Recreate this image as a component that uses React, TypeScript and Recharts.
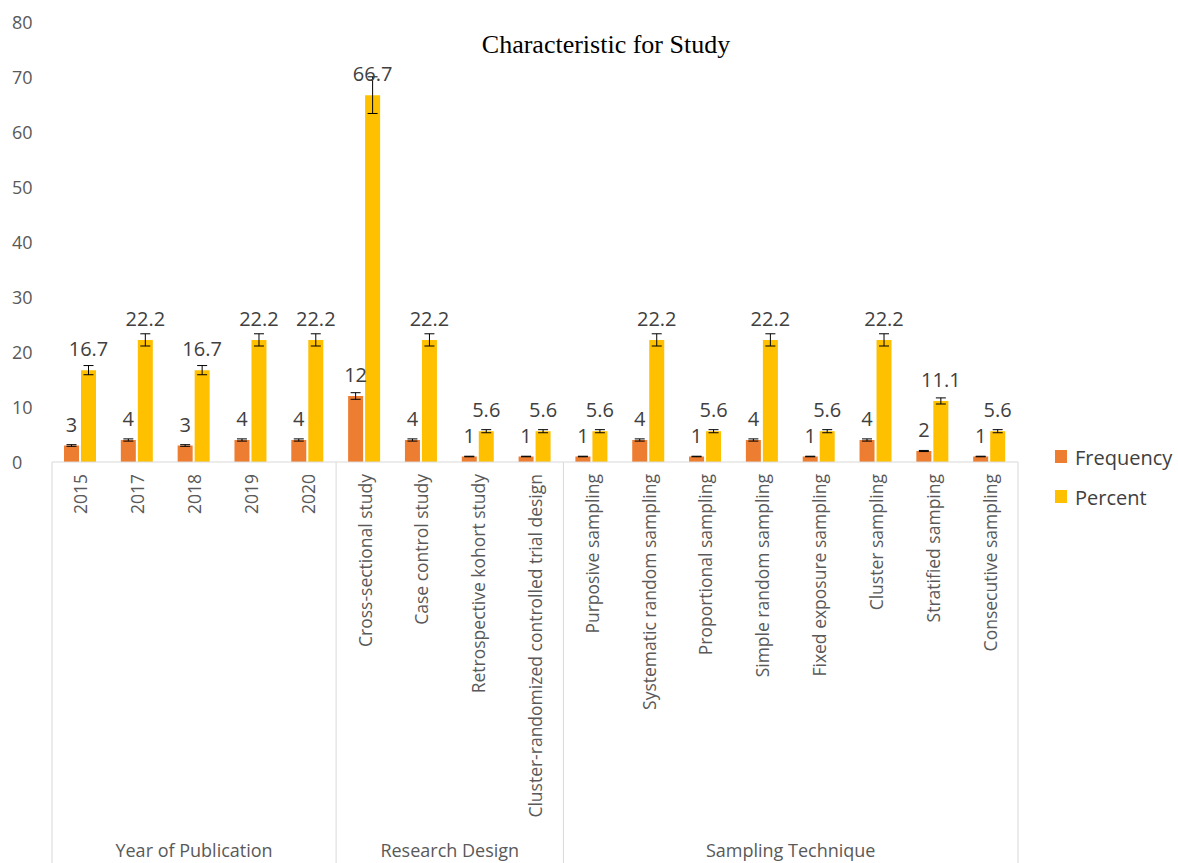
import React from 'react';
import { BarChart, Bar, XAxis, YAxis, ErrorBar, LabelList } from 'recharts';

document.body.style.margin = '0';

// Categories, in display order, split by group
const yearCats = ['2015', '2017', '2018', '2019', '2020'];
const designCats = [
  'Cross-sectional study',
  'Case control study',
  'Retrospective kohort study',
  'Cluster-randomized controlled trial design',
];
const samplingCats = [
  'Purposive sampling',
  'Systematic random sampling',
  'Proportional sampling',
  'Simple random sampling',
  'Fixed exposure sampling',
  'Cluster sampling',
  'Stratified samping',
  'Consecutive sampling',
];
const groupNames = ['Year of Publication', 'Research Design', 'Sampling Technique'];

const frequency = [3, 4, 3, 4, 4, 12, 4, 1, 1, 1, 4, 1, 4, 1, 4, 2, 1];
const percent = [16.7, 22.2, 16.7, 22.2, 22.2, 66.7, 22.2, 5.6, 5.6, 5.6, 22.2, 5.6, 22.2, 5.6, 22.2, 11.1, 5.6];

const yTicks = [0, 10, 20, 30, 40, 50, 60, 70, 80];

// Excel-style percentage error bars (5%)
const ERROR_PCT = 0.05;

const groups = [yearCats, designCats, samplingCats];
const categories = groups.flat();

const data = categories.map((category, i) => ({
  category,
  Frequency: frequency[i],
  Percent: percent[i],
}));

const W = 1178;
const H = 863;
const MARGIN = { top: 22, right: 160, bottom: 0, left: 0 };
const Y_W = 52;
const X_H = 401;
const BASE_Y = H - X_H;
const BAND = (W - MARGIN.left - MARGIN.right - Y_W) / categories.length;

const ORANGE = '#ED7D31';
const GOLD = '#FFC000';
const AXIS_GRAY = '#D9D9D9';
const FONT = '"Open Sans", "DejaVu Sans", sans-serif';

// index of first category of each group
const groupStarts: number[] = [];
{
  let n = 0;
  groups.forEach((g) => {
    groupStarts.push(n);
    n += g.length;
  });
}

const CategoryTick = (props: any) => {
  const { x, index, payload } = props;
  const gi = groupStarts.indexOf(index);
  const isLast = index === categories.length - 1;
  return (
    <g>
      <text
        transform={`translate(${x}, ${BASE_Y + 12}) rotate(-90)`}
        textAnchor="end"
        dominantBaseline="central"
        fontFamily={FONT}
        fontSize={17.5}
        fill="#595959"
      >
        {payload.value}
      </text>
      {gi >= 0 && (
        <>
          <line x1={x - BAND / 2} x2={x - BAND / 2} y1={BASE_Y} y2={H} stroke={AXIS_GRAY} strokeWidth={1} />
          <text
            x={x - BAND / 2 + (groups[gi].length * BAND) / 2}
            y={H - 6}
            textAnchor="middle"
            fontFamily={FONT}
            fontSize={18}
            fill="#595959"
          >
            {groupNames[gi]}
          </text>
        </>
      )}
      {isLast && (
        <line x1={x + BAND / 2} x2={x + BAND / 2} y1={BASE_Y} y2={H} stroke={AXIS_GRAY} strokeWidth={1} />
      )}
    </g>
  );
};

const ValueTick = (props: any) => {
  const { y, payload } = props;
  return (
    <text x={12} y={y} textAnchor="start" dominantBaseline="central" fontFamily={FONT} fontSize={18} fill="#595959">
      {payload.value}
    </text>
  );
};

const TopLabel = (props: any) => {
  const { x, y, width, value } = props;
  return (
    <text
      x={x + width / 2}
      y={y - 14}
      textAnchor="middle"
      fontFamily={FONT}
      fontSize={20}
      fill="#404040"
    >
      {value}
    </text>
  );
};

const series = [
  { key: 'Frequency', color: ORANGE },
  { key: 'Percent', color: GOLD },
];

export default function App() {
  return (
    <div style={{ position: 'relative', width: W, height: H, background: '#fff' }}>
      <BarChart width={W} height={H} data={data} margin={MARGIN} barSize={15} barGap={2}>
        <XAxis
          dataKey="category"
          interval={0}
          height={X_H}
          tickLine={false}
          axisLine={{ stroke: AXIS_GRAY }}
          tick={CategoryTick}
        />
        <YAxis
          width={Y_W}
          domain={[0, 80]}
          ticks={yTicks}
          axisLine={false}
          tickLine={false}
          tick={ValueTick}
        />
        {series.map((s) => (
          <Bar key={s.key} dataKey={s.key} fill={s.color} isAnimationActive={false}>
            <ErrorBar
              dataKey={(d: any) => d[s.key] * ERROR_PCT}
              width={5}
              stroke="#000"
              strokeWidth={1}
              direction="y"
            />
            <LabelList dataKey={s.key} content={TopLabel} />
          </Bar>
        ))}
      </BarChart>
      <svg width={W} height={H} style={{ position: 'absolute', left: 0, top: 0, pointerEvents: 'none' }}>
        <text x={606} y={53} textAnchor="middle" fontFamily='"Liberation Serif", "Times New Roman", serif' fontSize={26} fill="#000">
          Characteristic for Study
        </text>
        {series.map((s, i) => (
          <g key={s.key} transform={`translate(1055, ${450 + i * 40})`}>
            <rect x={0} y={0} width={12} height={13} fill={s.color} />
            <text x={20} y={7} dominantBaseline="central" fontFamily={FONT} fontSize={20} fill="#404040">
              {s.key}
            </text>
          </g>
        ))}
      </svg>
    </div>
  );
}
